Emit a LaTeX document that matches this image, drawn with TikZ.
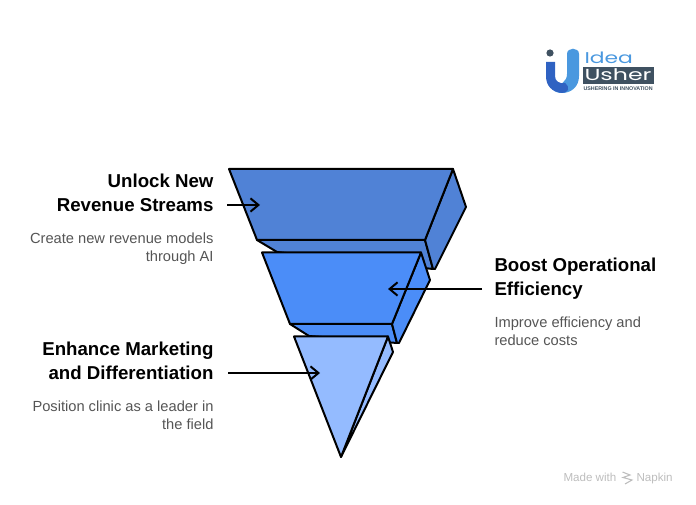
\documentclass[tikz,border=0pt]{standalone}
\usepackage{fontspec}
\setmainfont{Liberation Sans}
\newfontfamily\logofont{Poppins}
\usetikzlibrary{arrows.meta}
\definecolor{topblue}{HTML}{5082D6}
\definecolor{midblue}{HTML}{4B8DF8}
\definecolor{lowblue}{HTML}{94BBFF}
\definecolor{bodygrey}{HTML}{555555}
\definecolor{markgrey}{HTML}{BDBDBD}
\definecolor{logoslate}{HTML}{3F5161}
\definecolor{logoblue}{HTML}{4A98DF}
\definecolor{logodark}{HTML}{2F62C2}
\tikzset{every picture/.style={line width=0.75pt}}
\tikzset{
  facet/.style={draw=black,line width=1.5pt,line join=round},
  pointer/.style={draw=black,line width=1.5pt,-{Straight Barb[length=6pt,width=10pt,line width=1.5pt]}},
  headleft/.style={anchor=north east,inner sep=0pt,align=right,font=\fontsize{14}{18.2}\selectfont\bfseries},
  headright/.style={anchor=north west,inner sep=0pt,align=left,font=\fontsize{14}{18.2}\selectfont\bfseries},
  noteleft/.style={anchor=north east,inner sep=0pt,align=right,text=bodygrey,font=\fontsize{11}{13.5}\selectfont},
  noteright/.style={anchor=north west,inner sep=0pt,align=left,text=bodygrey,font=\fontsize{11}{13.5}\selectfont},
  madewith/.style={inner sep=0pt,text=markgrey,font=\fontsize{8.7}{10}\selectfont}
}
\begin{document}
\begin{tikzpicture}[x=0.75pt,y=0.75pt,yscale=-1,xscale=1]
\path[use as bounding box] (0,0) rectangle (696,505);

%Shape: top slice
\draw [facet,fill=topblue] (257,240) -- (277,252) -- (433,269) -- (425,240) -- cycle ;
\draw [facet,fill=topblue] (453,169) -- (466,207) -- (435,269) -- (433,269) -- (425,240) -- cycle ;
\draw [facet,fill=topblue] (229,169) -- (453,169) -- (425,240) -- (257,240) -- cycle ;
%Shape: middle slice
\draw [facet,fill=midblue] (290,324) -- (309,336) -- (397,343) -- (392,324) -- cycle ;
\draw [facet,fill=midblue] (421,252.5) -- (430,280) -- (399,343) -- (397,343) -- (392,324) -- cycle ;
\draw [facet,fill=midblue] (262,252.5) -- (421,252.5) -- (392,324) -- (290,324) -- cycle ;
%Shape: bottom slice
\draw [facet,fill=lowblue] (388,336.5) -- (393,352) -- (341,457) -- cycle ;
\draw [facet,fill=lowblue] (294,336.5) -- (388,336.5) -- (341,457) -- cycle ;

%Straight Lines
\coordinate (revenuestart) at (227,205);
\coordinate (revenueend) at (260,205);
\coordinate (efficiencystart) at (482,289);
\coordinate (efficiencyend) at (388,289);
\coordinate (marketingstart) at (228,373);
\coordinate (marketingend) at (320,373);
\draw [pointer] (revenuestart) -- (revenueend) ;
\draw [pointer] (efficiencystart) -- (efficiencyend) ;
\draw [pointer] (marketingstart) -- (marketingend) ;

% Text Node
\node [headleft] (revenuehead) at (214,173.5) {Unlock New\\Revenue Streams};
% Text Node
\node [noteleft] (revenuenote) at (214,232) {Create new revenue models\\through AI};
% Text Node
\node [headright] (efficiencyhead) at (494,257.5) {Boost Operational\\Efficiency};
% Text Node
\node [noteright] (efficiencynote) at (494,316) {Improve efficiency and\\reduce costs};
% Text Node
\node [headleft] (marketinghead) at (214,341.5) {Enhance Marketing\\and Differentiation};
% Text Node
\node [noteleft] (marketingnote) at (214,400) {Position clinic as a leader in\\the field};

%Shape: logo
\fill [logoblue] (567,54) .. controls (567,47) and (579,47) .. (579,54) -- (579,76) .. controls (579,87) and (571,93) .. (562,93) .. controls (558,93) and (555,92) .. (552,89) .. controls (560,85) and (567,82) .. (567,74) -- cycle ;
\fill [logodark] (546,62) -- (555,62) -- (555,76) .. controls (555,81) and (559,84) .. (565,83) .. controls (571,88) and (568,93) .. (562,93) .. controls (552,92) and (546,86) .. (546,76) -- cycle ;
\fill [logoslate] (550,53) circle (3.6) ;
\fill [logoslate] (583,67) rectangle (654,84) ;
\node [anchor=base west,inner sep=0pt,text=logoblue,font=\logofont\fontsize{11.7}{12}\selectfont] (logoidea) at (584,64) {\scalebox{1.4}[1]{Idea}};
\node [anchor=base west,inner sep=0pt,text=white,font=\logofont\fontsize{12}{12}\selectfont] (logousher) at (584,81) {\scalebox{1.48}[1]{Usher}};
\node [anchor=base west,inner sep=0pt,text=logoslate,font=\fontsize{4}{4}\selectfont\bfseries] (logotag) at (583,91) {USHERING IN INNOVATION};

% Text Node
\node [madewith,anchor=base west] (madelabel) at (563,482) {Made with};
% Text Node
\node [madewith,anchor=base west] (napkinlabel) at (636,482) {Napkin};
%Shape: mark
\draw [markgrey,line width=0.8pt] (622.5,472) -- (630,475) -- (623,477.5) -- (632,480) -- (625,484) ;
\end{tikzpicture}
\end{document}
